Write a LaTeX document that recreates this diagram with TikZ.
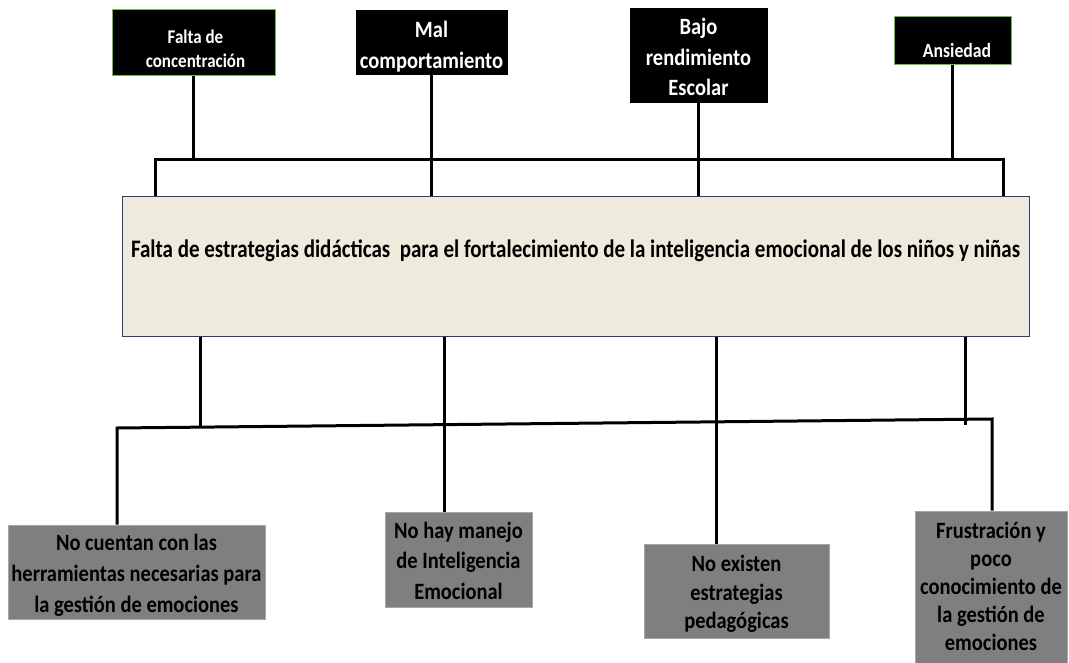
\documentclass[tikz,border=0pt]{standalone}
\usepackage{fontspec}
\usepackage{graphicx}
\setmainfont{Carlito}
\definecolor{cream}{HTML}{EEEBDC}
\definecolor{navyedge}{HTML}{2E3A7A}
\definecolor{greyfill}{HTML}{7F7F7F}
\definecolor{greyedge}{HTML}{A6A6A6}
\definecolor{greenedge}{HTML}{6FBF40}
% vertically stretched, centred block of lines
\newcommand\talltext[2][1.14]{\scalebox{1}[#1]{\begin{tabular}{@{}c@{}}#2\end{tabular}}}
\begin{document}
\begin{tikzpicture}[x=1pt,y=-1pt,
  topbox/.style={draw=black, fill=black, line width=1pt, inner sep=0pt},
  greenbox/.style={topbox, draw=greenedge},
  toptext/.style={text=white, inner sep=0pt, font=\bfseries\fontsize{20.5}{26.5}\selectfont},
  smalltoptext/.style={toptext, font=\bfseries\fontsize{17}{21.9}\selectfont},
  mainbox/.style={draw=navyedge, fill=cream, line width=1pt, inner sep=0pt},
  maintext/.style={text=black, inner sep=0pt, font=\bfseries\fontsize{21}{24}\selectfont},
  botbox/.style={draw=greyedge, fill=greyfill, line width=0.8pt, inner sep=0pt},
  bottext/.style={text=black, inner sep=0pt, font=\bfseries\fontsize{20.5}{26.8}\selectfont},
  conn/.style={draw=black, line width=3pt}
]
\useasboundingbox (0,0) rectangle (1069,663);

% top boxes
\node[greenbox, minimum width=163pt, minimum height=66pt] (t1) at (193.5,43) {};
\node[smalltoptext] (t1txt) at ([xshift=2pt,yshift=-7.5pt]t1.center) {\talltext{Falta de\\concentración}};
\node[topbox, minimum width=151pt, minimum height=64pt] (t2) at (431.5,43) {};
\node[toptext] (t2txt) at ([yshift=-4pt]t2.center) {\talltext{Mal\\comportamiento}};
\node[topbox, minimum width=137pt, minimum height=94pt] (t3) at (698.5,56) {};
\node[toptext] (t3txt) at ([yshift=-3pt]t3.center) {\talltext{Bajo\\rendimiento\\Escolar}};
\node[greenbox, minimum width=117pt, minimum height=48pt] (t4) at (952.5,41) {};
\node[smalltoptext, font=\bfseries\fontsize{17.7}{22}\selectfont] (t4txt) at ([xshift=4.5pt,yshift=-11pt]t4.center) {\talltext{Ansiedad}};

% main box
\node[mainbox, minimum width=907pt, minimum height=139pt] (m) at (575.5,266.5) {};
\node[maintext] (mtxt) at ([yshift=14.5pt]m.center) {\talltext[1.2]{Falta de estrategias didácticas\ \ para el fortalecimiento de la inteligencia emocional de los niños y niñas}};

% bottom boxes
\node[botbox, minimum width=257pt, minimum height=94pt] (b1) at (136.5,572) {};
\node[bottext, font=\bfseries\fontsize{20.5}{27.2}\selectfont] (b1txt) at ([yshift=-3pt]b1.center) {\talltext{No cuentan con las\\herramientas necesarias para\\la gestión de emociones}};
\node[botbox, minimum width=147pt, minimum height=95pt] (b2) at (458.5,559.5) {};
\node[bottext] (b2txt) at ([yshift=-3pt]b2.center) {\talltext{No hay manejo\\de Inteligencia\\Emocional}};
\node[botbox, minimum width=185pt, minimum height=94pt] (b3) at (736.5,591) {};
\node[bottext, font=\bfseries\fontsize{20.5}{25}\selectfont] (b3txt) at ([yshift=-3.5pt]b3.center) {\talltext{No existen\\estrategias\\pedagógicas}};
\node[botbox, minimum width=152pt, minimum height=152pt] (b4) at (991,587) {};
\node[bottext, font=\bfseries\fontsize{20.5}{24.6}\selectfont] (b4txt) at ([yshift=-2pt]b4.center) {\talltext{Frustración y\\poco\\conocimiento de\\la gestión de\\emociones}};

% top connectors
\coordinate (ta) at (155,160);
\coordinate (tb) at (1003,160);
\draw[conn] (ta |- m.north) -- (ta) -- (tb) -- (tb |- m.north);
\draw[conn] (t1.south) -- (t1.south |- ta);
\draw[conn] (t2.south) -- (t2.south |- m.north);
\draw[conn] (t3.south) -- (t3.south |- m.north);
\draw[conn] (t4.south) -- (t4.south |- ta);

% bottom connectors
\coordinate (ba) at (117,428);
\coordinate (bb) at (992,419);
\coordinate (j1) at (200,427.1);
\coordinate (j2) at (444,424.6);
\coordinate (j3) at (716,421.8);
\coordinate (j4) at (965,425);
\draw[conn] (b1.north -| ba) -- (ba) -- (bb) -- (b4.north -| bb);
\draw[conn] (m.south -| j1) -- (j1);
\draw[conn] (m.south -| j2) -- (b2.north -| j2);
\draw[conn] (m.south -| j3) -- (b3.north -| j3);
\draw[conn] (m.south -| j4) -- (j4);
\end{tikzpicture}
\end{document}
